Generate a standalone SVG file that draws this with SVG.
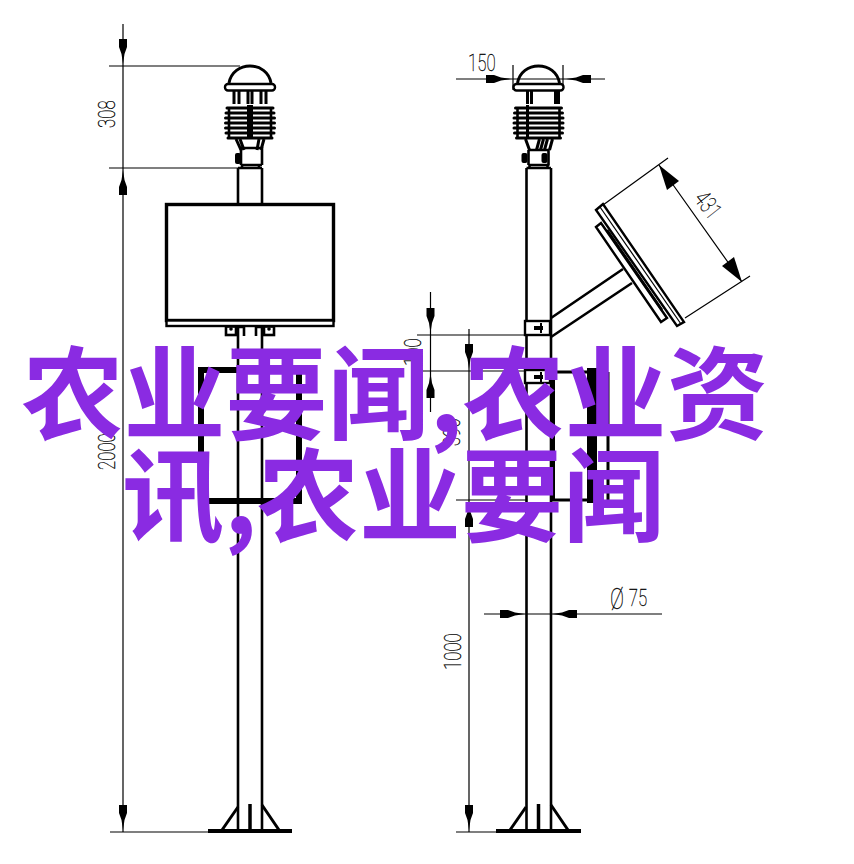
<svg xmlns="http://www.w3.org/2000/svg" xmlns:xlink="http://www.w3.org/1999/xlink" width="854" height="864" viewBox="0 0 854 864">
<style>
.t{stroke:#000;stroke-width:1.200;fill:none}
.m{stroke:#000;stroke-width:2.600;fill:none}
.k{stroke:#000;stroke-width:3;fill:none}
.b{stroke:#000;stroke-width:6;fill:none}
.w{stroke:#000;stroke-width:2.400;fill:#fff}
.dim{font-family:Roboto,"Liberation Sans",sans-serif;font-weight:100;font-size:24px;fill:#000;stroke:#000;stroke-width:.3}
.title{font-family:"Noto Sans CJK SC","Noto Sans CJK JP",sans-serif;font-weight:700;font-size:102px;fill:#8a2be2;text-anchor:middle}
</style>
<defs>
<polygon id="arrow" points="0,0 -1.500,-10 -4,-17 -4,-25 4,-25 4,-17 1.500,-10" fill="#000"/>
<g id="fins">
<path class="k" stroke-linecap="round" d="M-23,108H23M-24,113H24M-24.500,118H24.500M-24.500,123H24.500M-24.500,128H24.500M-24,133H24M-22,138H22"/>
<path class="m" d="M-21,107V138M21,107V138"/>
</g>
<path id="dome" class="k" d="M-21,83C-19,72 -10,66 0,66C10,66 19,72 21,83"/>
<rect id="brim" class="w" x="-25" y="84" width="50" height="6.500" rx="3"/>
</defs>

<rect width="854" height="864" fill="#fff"/>

<g id="connectors">
<path class="t" d="M123,24V832M109,66H240M109,168H238M110,832H209"/>
<use xlink:href="#arrow" href="#arrow" transform="translate(123,64)"/>
<use xlink:href="#arrow" href="#arrow" transform="translate(123,170) rotate(180)"/>
<use xlink:href="#arrow" href="#arrow" transform="translate(123,830)"/>
<path class="t" d="M456,79H605M513,65V90M563,65V90"/>
<use xlink:href="#arrow" href="#arrow" transform="translate(511,79) rotate(-90)"/>
<use xlink:href="#arrow" href="#arrow" transform="translate(566,79) rotate(90)"/>
<path class="t" d="M430.500,292V412M417,335H526M422,371H526"/>
<use xlink:href="#arrow" href="#arrow" transform="translate(430.500,333)"/>
<use xlink:href="#arrow" href="#arrow" transform="translate(430.500,373) rotate(180)"/>
<path class="t" d="M469,329V832M456,500H526M456,832H497"/>
<use xlink:href="#arrow" href="#arrow" transform="translate(469,369)"/>
<use xlink:href="#arrow" href="#arrow" transform="translate(469,502) rotate(180)"/>
<use xlink:href="#arrow" href="#arrow" transform="translate(469,830)"/>
<path class="t" d="M484,614H662"/>
<use xlink:href="#arrow" href="#arrow" transform="translate(525,614) rotate(-90)"/>
<use xlink:href="#arrow" href="#arrow" transform="translate(552,614) rotate(90)"/>
<path class="t" d="M603,205L668,158M685,318L750,276M659,165L742,282"/>
<polygon points="659,165 679,181 667,190" fill="#000"/>
<polygon points="742,282 722,266 734,257" fill="#000"/>
</g>

<g id="left-pole">
<path class="m" d="M238,168V831M262,168V831M238,168H262"/>
<path class="k" d="M222,830L238,807M262,805L279,830"/>
<path style="stroke:#000;stroke-width:3.500" d="M250,804V831"/>
<path style="stroke:#000;stroke-width:4" d="M208,831H292"/>
</g>

<g id="left-sensor" transform="translate(250,0)">
<use xlink:href="#dome" href="#dome"/>
<path class="k" d="M-16,91V104M-11,91V104M-2,91V104M2,91V104M11,91V104M16,91V104"/>
<use xlink:href="#brim" href="#brim"/>
<use xlink:href="#fins" href="#fins"/>
<path stroke="#000" stroke-width="6" d="M0,105V137"/>
<path class="k" d="M-14,139L-9,150M-10,139L-6,150M14,139L11,150M9,139L7,150"/>
<path class="m" d="M-9,148H12V165M-9,148V165M-9,165H12M-8,168V165M9,168V165"/>
<rect x="-15" y="153" width="6" height="11" rx="2" fill="#000"/>
</g>

<g id="left-display">
<rect x="166.500" y="204.500" width="167" height="116" fill="#fff" style="stroke:#000;stroke-width:3.400"/>
<rect x="166.500" y="320.500" width="167" height="5.500" class="w"/>
<rect x="226" y="326.500" width="10" height="8.500" class="m"/>
<rect x="264" y="326.500" width="10" height="8.500" class="m"/>
<path class="m" d="M236,327H244V336M256,336V327H264"/>
<circle cx="231" cy="329" r="1.800" fill="#000"/>
<circle cx="269" cy="329" r="1.800" fill="#000"/>
</g>

<g id="left-box">
<rect x="201" y="370" width="98" height="131" fill="#fff" class="b"/>
</g>

<g id="right-pole">
<path class="m" d="M526.500,168V831M551,168V831M526.500,168H551"/>
<path class="k" d="M510,830L526,807M551,805L568,830"/>
<path style="stroke:#000;stroke-width:3.500" d="M538.500,804V831"/>
<path style="stroke:#000;stroke-width:4" d="M496,831H581"/>
</g>

<g id="right-sensor" transform="translate(538.500,0)">
<use xlink:href="#dome" href="#dome"/>
<path class="k" d="M-11,91V104M-7,91V104M17,91V104M20,91V104"/>
<use xlink:href="#brim" href="#brim"/>
<use xlink:href="#fins" href="#fins"/>
<path class="k" d="M-11,105V138"/>
<path class="k" d="M-13,139L-9,150M14,139L11,150M1,139L-2,150M5,139L2,150M9,139L6,150"/>
<path class="m" d="M-10,150H10V165M-10,150V165M-10,165H11M-9,168V165M9,168V165"/>
<rect x="-17" y="153" width="6" height="10" rx="2" fill="#000"/>
<rect x="3" y="153" width="6" height="10" rx="2" fill="#000"/>
</g>

<g id="right-clamps">
<rect x="525" y="321" width="25" height="14" class="w"/>
<path stroke="#000" stroke-width="4" d="M534,328H543"/>
<path stroke="#000" stroke-width="2" d="M541,323V333"/>
<rect x="525" y="370" width="25" height="13" class="w"/>
<path stroke="#000" stroke-width="4" d="M534,377H543"/>
<path stroke="#000" stroke-width="2" d="M541,372V382"/>
</g>

<g id="right-panel">
<path class="m" d="M551,318L623,269M551,337L632,283"/>
<polygon class="w" points="596,227 601,223 667,318 661,322"/>
<path class="m" d="M607,230L662,310M610,228L665,308"/>
<polygon class="w" points="596,210 603,204 684,322 677,326"/>
<path class="t" d="M600,207L681,324"/>
</g>

<g id="right-side-box">
<path class="k" d="M552,372H590M552,500H590"/>
<path style="stroke:#000;stroke-width:4" d="M553,372V500"/>
<rect x="587" y="368" width="10" height="135" fill="#000"/>
<path class="k" d="M608,372V503M597,372H608M597,503H608"/>
</g>

<g id="dimension-labels">
<text class="dim" transform="translate(115,128) rotate(-90) scale(.7,1)">308</text>
<text class="dim" transform="translate(115,470) rotate(-90) scale(.7,1)">2000</text>
<text class="dim" transform="translate(468,71) scale(.7,1)">150</text>
<text class="dim" transform="translate(421,366) rotate(-90) scale(.7,1)">100</text>
<text class="dim" transform="translate(460,446) rotate(-90) scale(.7,1)">390</text>
<text class="dim" transform="translate(461,670) rotate(-90) scale(.7,1)">1000</text>
<text class="dim" transform="translate(610,606) scale(.7,1)"><tspan font-size="30" dy="3">Ø</tspan><tspan dx="7" dy="-3">75</tspan></text>
<text class="dim" transform="translate(693,199) rotate(52) scale(.7,1)">431</text>
</g>

<g id="title">
<text class="title" x="395" y="432">农业要闻,农业资</text>
<text class="title" x="393.500" y="534">讯,农业要闻</text>
</g>
</svg>
